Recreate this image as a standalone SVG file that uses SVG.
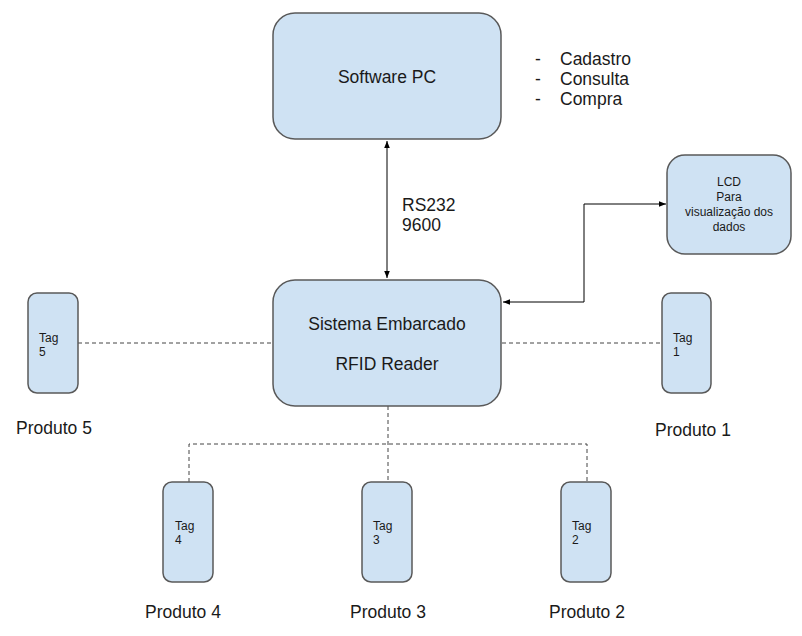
<svg xmlns="http://www.w3.org/2000/svg" width="802" height="636" viewBox="0 0 802 636">
<defs>
<style>
.box{fill:#cfe2f3;stroke:#595959;stroke-width:1.5}
.t{font-family:"Liberation Sans",Arial,sans-serif;fill:#1a1a1a}
.big{font-size:17.5px}
.sm{font-size:12px}
.line{fill:none;stroke:#000;stroke-width:1}
.dash{fill:none;stroke:#444;stroke-width:1;stroke-dasharray:4,3}
</style>
<marker id="ah" viewBox="0 0 10 10" refX="10" refY="5" markerWidth="7" markerHeight="7" orient="auto-start-reverse" markerUnits="userSpaceOnUse">
<path d="M0,1 L10,5 L0,9 z" fill="#000"/>
</marker>
</defs>
<rect width="802" height="636" fill="#fff"/>
<g id="connectors">
<line class="line" x1="387" y1="141" x2="387" y2="278" marker-start="url(#ah)" marker-end="url(#ah)"/>
<polyline class="line" points="503,302 584,302 584,204 666,204" marker-start="url(#ah)" marker-end="url(#ah)"/>
<line class="dash" x1="78" y1="343" x2="273" y2="343"/>
<line class="dash" x1="502" y1="343" x2="662" y2="343"/>
<line class="dash" x1="388" y1="406" x2="388" y2="482"/>
<polyline class="dash" points="189,482 189,444 587,444 587,482"/>
</g>
<g id="software-pc">
<rect class="box" x="273" y="13" width="228" height="126" rx="22"/>
<text class="t big" x="387" y="83" text-anchor="middle">Software PC</text>
</g>
<g id="menu">
<text class="t big" x="535" y="65">-</text>
<text class="t big" x="560" y="65">Cadastro</text>
<text class="t big" x="535" y="85">-</text>
<text class="t big" x="560" y="85">Consulta</text>
<text class="t big" x="535" y="105">-</text>
<text class="t big" x="560" y="105">Compra</text>
</g>
<g id="rs232-label">
<text class="t big" x="402" y="211">RS232</text>
<text class="t big" x="402" y="231">9600</text>
</g>
<g id="lcd">
<rect class="box" x="667" y="155" width="124" height="99" rx="18"/>
<text class="t sm" text-anchor="middle"><tspan x="729" y="186">LCD</tspan><tspan x="729" y="201">Para</tspan><tspan x="729" y="216">visualização dos</tspan><tspan x="729" y="231">dados</tspan></text>
</g>
<g id="sistema">
<rect class="box" x="273" y="280" width="228" height="126" rx="22"/>
<text class="t big" x="387" y="330" text-anchor="middle">Sistema Embarcado</text>
<text class="t big" x="387" y="370" text-anchor="middle">RFID Reader</text>
</g>
<g id="tag5">
<rect class="box" x="28" y="293" width="50" height="100" rx="9"/>
<text class="t sm"><tspan x="39" y="342">Tag</tspan><tspan x="39" y="356">5</tspan></text>
<text class="t big" x="16" y="434">Produto 5</text>
</g>
<g id="tag1">
<rect class="box" x="662" y="293" width="49" height="100" rx="9"/>
<text class="t sm"><tspan x="673" y="342">Tag</tspan><tspan x="673" y="356">1</tspan></text>
<text class="t big" x="655" y="436">Produto 1</text>
</g>
<g id="tag4">
<rect class="box" x="163" y="482" width="50" height="100" rx="9"/>
<text class="t sm"><tspan x="175" y="530">Tag</tspan><tspan x="175" y="544">4</tspan></text>
<text class="t big" x="145" y="618">Produto 4</text>
</g>
<g id="tag3">
<rect class="box" x="362" y="482" width="50" height="100" rx="9"/>
<text class="t sm"><tspan x="373" y="530">Tag</tspan><tspan x="373" y="544">3</tspan></text>
<text class="t big" x="350" y="618">Produto 3</text>
</g>
<g id="tag2">
<rect class="box" x="561" y="482" width="50" height="100" rx="9"/>
<text class="t sm"><tspan x="572" y="530">Tag</tspan><tspan x="572" y="544">2</tspan></text>
<text class="t big" x="549" y="618">Produto 2</text>
</g>
</svg>
